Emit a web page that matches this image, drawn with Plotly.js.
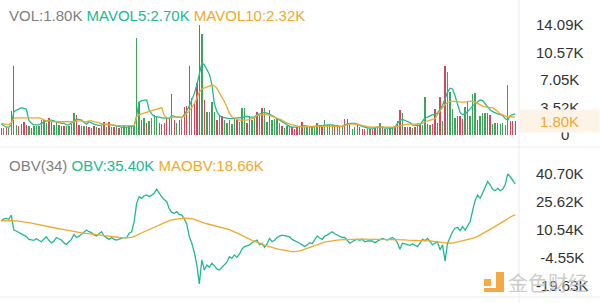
<!DOCTYPE html>
<html><head><meta charset="utf-8">
<script src="https://cdn.plot.ly/plotly-3.0.1.min.js"></script>
<style>html,body{margin:0;padding:0;background:#fff;}#chart{width:600px;height:303px;}</style>
</head><body><div id="chart"></div>
<script>
// ---- data (values in K) ----
const vol = [
0.9,0.9,0.9,0.9,3.1,8.9,1.3,1.1,1.4,1.7,
1.3,1.1,0.9,1.1,1.2,1.2,1.9,1.9,1.5,2.2,
1.7,1.3,1.7,1.3,1.2,1.1,1.2,1.2,1.4,2.8,
2.6,1.3,1.1,1.2,1.2,1.0,0.9,1.1,1.0,0.9,
1.2,1.7,1.0,1.7,1.0,1.0,1.1,0.9,1.0,1.1,
1.0,1.1,1.0,1.2,12.4,4.2,1.9,2.2,1.5,1.8,
2.2,2.6,2.3,1.6,1.4,1.6,2.0,2.3,5.2,1.9,
1.6,1.9,2.1,3.6,3.7,8.8,4.7,4.0,6.6,14.1,
13.0,4.5,2.9,3.0,4.2,2.9,1.9,2.6,2.4,1.9,
1.5,1.9,1.4,2.2,1.9,1.7,3.5,3.5,1.5,2.4,
1.9,2.3,3.0,2.6,3.5,3.5,1.7,3.2,1.9,2.0,
2.2,1.5,1.1,0.9,1.1,1.1,1.0,0.8,1.0,1.1,
1.7,1.0,1.0,1.0,1.1,1.1,1.6,1.1,1.0,1.9,
1.3,1.3,1.3,1.1,1.0,1.0,1.0,2.0,2.0,1.3,
0.8,1.0,1.3,1.0,0.8,0.8,0.8,0.8,0.8,1.0,
1.2,1.5,1.1,0.8,0.8,0.9,1.0,1.1,1.8,3.2,
2.8,1.0,1.0,1.0,0.9,1.0,1.5,1.3,1.3,4.9,
1.4,1.3,1.4,3.3,1.6,4.9,1.8,8.8,8.1,5.5,
3.3,2.2,2.4,2.4,2.0,3.6,4.2,2.4,5.2,5.4,
1.9,2.4,2.8,2.8,2.8,2.5,1.4,1.6,1.6,1.4,
1.5,1.3,6.4,1.8,1.8,1.8];
// r = falling bar, g = rising bar
const volDir = ("rgrggrgrrr"+"rgrgggrggr"+"rgggrrgggg"+"rrggrrgrgr"+"rrgrgrgrgg"+
 "ggggggrgrg"+"gggrrrrrrr"+"grgrrrgrrr"+"grggggrgrg"+"ggggrgggrr"+
 "ggrrrggrgg"+"ggrgggrrrr"+"rggrgggrrg"+"rggrrggrrr"+"gggrrrggrr"+
 "ggrggggrrr"+"grrrgrgrgg"+"rgrrrrgrgg"+"ggrrrggggg"+"rgggrrggrg"+"gggrrr").split("");
const mavol5 = [
1.4,1.2,1.0,1.0,1.3,3.0,3.2,3.3,3.5,3.4,
3.3,1.9,1.5,1.3,1.3,1.3,1.5,1.7,1.8,1.9,
1.9,1.8,1.7,1.6,1.5,1.5,1.3,1.3,1.5,1.8,
2.0,2.0,1.9,1.6,1.4,1.7,1.5,1.4,1.3,1.2,
1.3,1.3,1.4,1.4,1.3,1.2,1.1,1.1,1.0,1.0,
1.0,1.0,1.1,1.1,2.5,4.2,4.4,4.5,4.5,3.2,
2.7,2.4,2.3,2.3,2.2,2.2,2.1,2.1,2.5,2.4,
2.3,2.3,2.2,2.6,3.1,3.7,4.5,5.3,6.4,8.0,
9.2,9.0,8.4,7.8,6.5,4.0,3.0,2.5,2.3,2.2,
2.2,2.1,2.1,2.2,2.2,2.2,2.3,2.4,2.4,2.3,
2.3,2.3,2.6,2.7,2.8,2.9,2.8,2.7,2.5,2.3,
2.1,1.8,1.6,1.4,1.2,1.1,1.0,1.0,1.0,1.1,
1.1,1.2,1.1,1.1,1.0,1.1,1.2,1.2,1.2,1.3,
1.3,1.3,1.3,1.2,1.2,1.1,1.1,1.3,1.4,1.5,
1.5,1.5,1.4,1.2,1.1,1.0,0.9,0.9,0.9,0.9,
1.0,1.0,1.0,0.9,0.9,0.9,0.9,1.0,1.4,1.9,
2.0,1.9,1.8,1.6,1.3,1.2,1.2,1.3,1.7,2.2,
2.3,2.5,2.6,2.6,2.8,3.3,3.8,4.6,5.5,6.0,
5.9,5.0,4.0,2.9,2.6,2.7,3.0,3.4,3.7,4.0,
4.2,4.5,4.4,4.0,3.5,3.2,3.0,2.8,2.7,2.6,
2.5,2.1,1.9,2.5,2.6,2.7];
const mavol10 = [
1.5,1.4,1.3,1.3,1.6,2.1,2.2,2.2,2.2,2.2,
2.2,2.2,2.2,2.2,2.2,2.2,2.1,1.9,1.8,1.8,
1.7,1.7,1.7,1.7,1.7,1.7,1.7,1.7,1.7,1.7,
1.8,1.8,1.8,1.7,1.7,1.8,1.8,1.7,1.6,1.5,
1.4,1.3,1.3,1.3,1.3,1.3,1.2,1.2,1.2,1.2,
1.2,1.2,1.2,1.2,2.3,2.6,2.7,2.8,2.9,3.0,
3.1,3.2,3.3,3.4,3.5,2.5,2.2,2.2,2.3,2.3,
2.3,2.3,2.3,2.4,2.7,3.1,3.5,4.0,4.7,5.5,
5.9,6.0,6.2,6.3,6.4,6.3,6.0,5.4,4.9,4.3,
3.6,2.8,2.3,2.1,2.0,1.9,1.9,1.9,1.9,2.0,
2.1,2.2,2.5,2.6,2.6,2.6,2.6,2.5,2.4,2.3,
2.1,2.0,1.9,1.7,1.5,1.4,1.3,1.2,1.1,1.0,
1.0,1.0,1.1,1.1,1.1,1.1,1.1,1.1,1.1,1.1,
1.1,1.1,1.1,1.1,1.1,1.1,1.1,1.2,1.3,1.4,
1.4,1.4,1.4,1.3,1.2,1.1,1.0,1.0,1.0,1.0,
1.0,1.0,1.0,1.0,1.0,1.0,1.0,1.0,1.1,1.2,
1.3,1.4,1.4,1.4,1.4,1.4,1.4,1.5,1.5,1.7,
1.8,1.9,2.0,2.1,2.6,3.1,3.5,3.9,4.2,4.3,
4.3,4.3,4.3,4.2,4.2,4.2,4.3,4.3,4.3,4.2,
4.0,3.8,3.7,3.6,3.5,3.5,3.5,3.3,3.0,2.7,
2.6,2.4,2.3,2.4,2.3,2.32];
const obv = [
15.4,16.5,16.8,16.3,18.5,10.5,10.0,9.2,8.5,7.6,
7.0,5.5,5.4,5.0,5.8,4.8,4.2,5.6,6.9,5.0,
3.6,4.5,6.5,5.8,5.1,3.6,2.8,4.2,5.5,8.2,
6.5,7.2,8.4,9.5,10.5,9.6,9.1,7.9,7.3,8.5,
9.6,7.3,6.5,5.5,6.5,5.5,5.1,5.6,6.0,6.5,
6.3,8.8,9.6,15.0,24.9,28.5,27.6,29.0,29.4,28.5,
29.3,30.3,32.5,30.3,28.4,27.0,25.8,22.0,20.0,19.5,
20.4,18.9,18.6,16.5,13.6,7.0,3.4,-1.5,-8.3,-18.5,
-5.6,-11.0,-8.3,-9.5,-7.4,-8.8,-10.4,-11.0,-9.6,-8.3,
-6.8,-3.8,-4.7,-2.9,-4.2,-2.5,0.2,1.6,2.0,2.5,
3.7,4.5,5.1,2.5,3.4,1.2,3.0,6.0,4.2,5.0,
6.5,7.2,7.8,7.5,7.3,6.8,5.5,4.8,4.5,3.4,
2.5,1.6,2.4,3.7,3.2,5.5,7.3,6.2,5.5,7.3,
7.8,8.8,9.6,8.5,7.8,7.0,6.5,6.5,5.0,3.4,
4.2,5.1,5.5,5.0,5.5,4.2,4.6,4.8,4.6,3.7,
4.4,5.1,6.0,5.5,5.1,5.8,6.5,5.6,3.7,0.2,
3.4,3.0,2.5,2.3,3.0,2.2,1.6,3.5,5.5,4.8,
6.0,4.5,2.5,3.5,4.2,-0.2,2.5,-6.2,3.4,6.5,
9.6,11.5,12.0,10.2,12.3,10.5,13.0,15.0,21.0,26.5,
29.4,27.6,30.5,34.0,36.6,34.8,32.5,31.7,33.0,31.7,
32.5,35.0,40.7,39.2,37.5,35.4];
const maobv = [
15.4,15.5,15.6,15.6,15.6,15.6,15.5,
15.4,15.2,15.0,14.7,14.5,14.2,13.8,
13.5,13.2,12.9,12.6,12.4,12.2,12.0,
11.7,11.5,11.2,11.0,10.7,10.4,10.1,
9.9,9.6,9.4,9.2,9.0,8.9,8.7,
8.5,8.3,8.2,8.0,7.8,7.6,7.4,
7.3,7.1,6.9,6.8,6.6,6.5,6.4,
6.3,6.3,6.4,6.6,7.0,7.6,8.4,
9.0,9.7,10.4,11.1,11.7,12.3,12.9,
13.6,14.1,14.7,15.2,15.6,16.0,16.3,
16.5,16.7,16.8,16.9,16.9,16.8,16.6,
16.2,15.6,15.1,14.6,14.2,13.9,13.6,
13.3,13.0,12.7,12.4,12.0,11.6,11.1,
10.7,10.2,9.7,9.0,8.3,7.6,6.8,
6.2,5.6,5.0,4.4,3.9,3.4,2.9,
2.4,2.0,1.5,1.1,0.7,0.4,0.1,
-0.2,-0.5,-0.8,-1.0,-1.1,-1.1,-1.0,
-0.7,-0.3,0.2,0.8,1.3,1.8,2.3,
2.8,3.2,3.6,4.0,4.3,4.6,4.8,
5.0,5.1,5.2,5.3,5.4,5.5,5.5,
5.5,5.6,5.6,5.6,5.6,5.6,5.6,
5.6,5.6,5.6,5.6,5.5,5.5,5.5,
5.5,5.4,5.4,5.4,5.3,5.3,5.2,
5.2,5.1,5.0,5.0,4.9,4.8,4.8,
4.8,4.8,4.7,4.7,4.6,4.5,4.3,
4.0,3.7,3.5,3.4,3.4,3.5,3.8,
4.2,4.6,5.0,5.2,5.4,5.6,5.8,
6.4,7.1,7.8,8.6,9.4,10.2,11.0,
11.7,12.5,13.2,14.0,14.8,15.7,16.6,
17.5,18.2,18.66];
const obvPeriod = 34;
const volTickVals = [0, 3.52, 7.05, 10.57, 14.09];
const volTickText = ["0", "3.52K", "7.05K", "10.57K", "14.09K"];
const obvTickVals = [-19.63, -4.55, 10.54, 25.62, 40.70];
const obvTickText = ["-19.63K", "-4.55K", "10.54K", "25.62K", "40.70K"];

// ---- styling ----
const W = 600, H = 303;
const RED = "#d0485c", GREEN = "#3fa35c", TEAL = "#22b893", ORANGE = "#f0a92c", GRAY = "#808080";
const px = x => x / W, py = y => 1 - y / H;
const xs = vol.map((_, i) => i);
const last = a => a[a.length - 1];
const fmt = v => v.toFixed(2) + "K";
const pad = (s, n) => "\u00a0".repeat(n) + s;

const traces = [
  {type: "bar", x: xs, y: vol, marker: {color: volDir.map(d => d === "r" ? RED : GREEN), line: {width: 0}},
   width: 0.55, xaxis: "x", yaxis: "y", hoverinfo: "none"},
  {type: "scatter", mode: "lines", x: xs, y: mavol5, line: {color: TEAL, width: 1.3}, xaxis: "x", yaxis: "y", hoverinfo: "none"},
  {type: "scatter", mode: "lines", x: xs, y: mavol10, line: {color: ORANGE, width: 1.3}, xaxis: "x", yaxis: "y", hoverinfo: "none"},
  {type: "scatter", mode: "lines", x: xs, y: obv, line: {color: TEAL, width: 1.3}, xaxis: "x", yaxis: "y2", hoverinfo: "none"},
  {type: "scatter", mode: "lines", x: xs, y: maobv, line: {color: ORANGE, width: 1.3}, xaxis: "x", yaxis: "y2", hoverinfo: "none"}
];

const tickFont = {family: "Liberation Sans, Arial, sans-serif", size: 15, color: "#333"};
const layout = {
  width: W, height: H, margin: {l: 0, r: 0, t: 0, b: 0},
  paper_bgcolor: "#fff", plot_bgcolor: "rgba(0,0,0,0)", showlegend: false,
  bargap: 0,
  xaxis: {domain: [0, px(519)], range: [-0.5, vol.length + 0.5], visible: false, fixedrange: true},
  yaxis: {domain: [py(135), py(18)], range: [0, 14.99], side: "right", anchor: "x",
    tickmode: "array", tickvals: volTickVals,
    ticktext: volTickText.map((t, i) => pad(t, [6, 1, 1, 0, 0][i])),
    showgrid: false, zeroline: false, showline: false, ticks: "", ticklabelstandoff: 16, tickfont: tickFont},
  yaxis2: {domain: [py(294), py(160)], range: [-23.94, 48.24], side: "right", anchor: "x",
    tickmode: "array", tickvals: obvTickVals, ticktext: obvTickText.map((t, i) => pad(t, [0, 1, 0, 0, 0][i])),
    showgrid: false, zeroline: false, showline: false, ticks: "", ticklabelstandoff: 16, tickfont: tickFont},
  shapes: [
    {type: "line", xref: "paper", yref: "paper", x0: 0, x1: 1, y0: py(147), y1: py(147), line: {color: "#ececec", width: 1}},
    {type: "line", xref: "paper", yref: "paper", x0: 0, x1: 1, y0: py(297), y1: py(297), line: {color: "#ececec", width: 1}},
    {type: "line", xref: "paper", yref: "paper", x0: px(519), x1: px(519), y0: 0, y1: 1, line: {color: "#ececec", width: 1}},
    // watermark logo
    {type: "rect", xref: "paper", yref: "paper", x0: px(484), x1: px(491), y0: py(286), y1: py(279), fillcolor: "#f3a43a", line: {width: 0}, opacity: 0.95},
    {type: "path", xref: "paper", yref: "paper", fillcolor: "#f3a43a", line: {width: 0}, opacity: 0.95,
     path: `M ${px(496)} ${py(272)} L ${px(504)} ${py(272)} L ${px(504)} ${py(292)} L ${px(484)} ${py(292)} L ${px(484)} ${py(288)} L ${px(496)} ${py(288)} Z`}
  ],
  annotations: [
    {xref: "paper", yref: "paper", x: px(7), y: py(15), xanchor: "left", yanchor: "middle", showarrow: false,
     font: {family: "Liberation Sans, Arial, sans-serif", size: 15, color: GRAY},
     text: `VOL:${fmt(last(vol))} <span style="color:${TEAL}">MAVOL5:${fmt(last(mavol5))}</span> <span style="color:${ORANGE}">MAVOL10:${fmt(last(mavol10))}</span>`},
    {xref: "paper", yref: "paper", x: px(7), y: py(165), xanchor: "left", yanchor: "middle", showarrow: false,
     font: {family: "Liberation Sans, Arial, sans-serif", size: 15, color: GRAY},
     text: `OBV(${obvPeriod}) <span style="color:${TEAL}">OBV:${fmt(last(obv))}</span> <span style="color:${ORANGE}">MAOBV:${fmt(last(maobv))}</span>`},
    {xref: "paper", yref: "y", x: px(559.5), y: last(vol), xanchor: "center", yanchor: "middle", showarrow: false,
     width: 79, height: 22, bgcolor: "#fdf3e6", borderpad: 0,
     font: {family: "Liberation Sans, Arial, sans-serif", size: 15, color: ORANGE}, text: fmt(last(vol))},
    {xref: "paper", yref: "paper", x: px(548), y: py(282), xanchor: "center", yanchor: "middle", showarrow: false,
     opacity: 0.85, font: {family: "Noto Sans CJK SC", size: 20, color: "#c4c4c4"}, text: "金色财经"}
  ]
};
Plotly.newPlot("chart", traces, layout, {staticPlot: true, displayModeBar: false});
</script></body></html>
